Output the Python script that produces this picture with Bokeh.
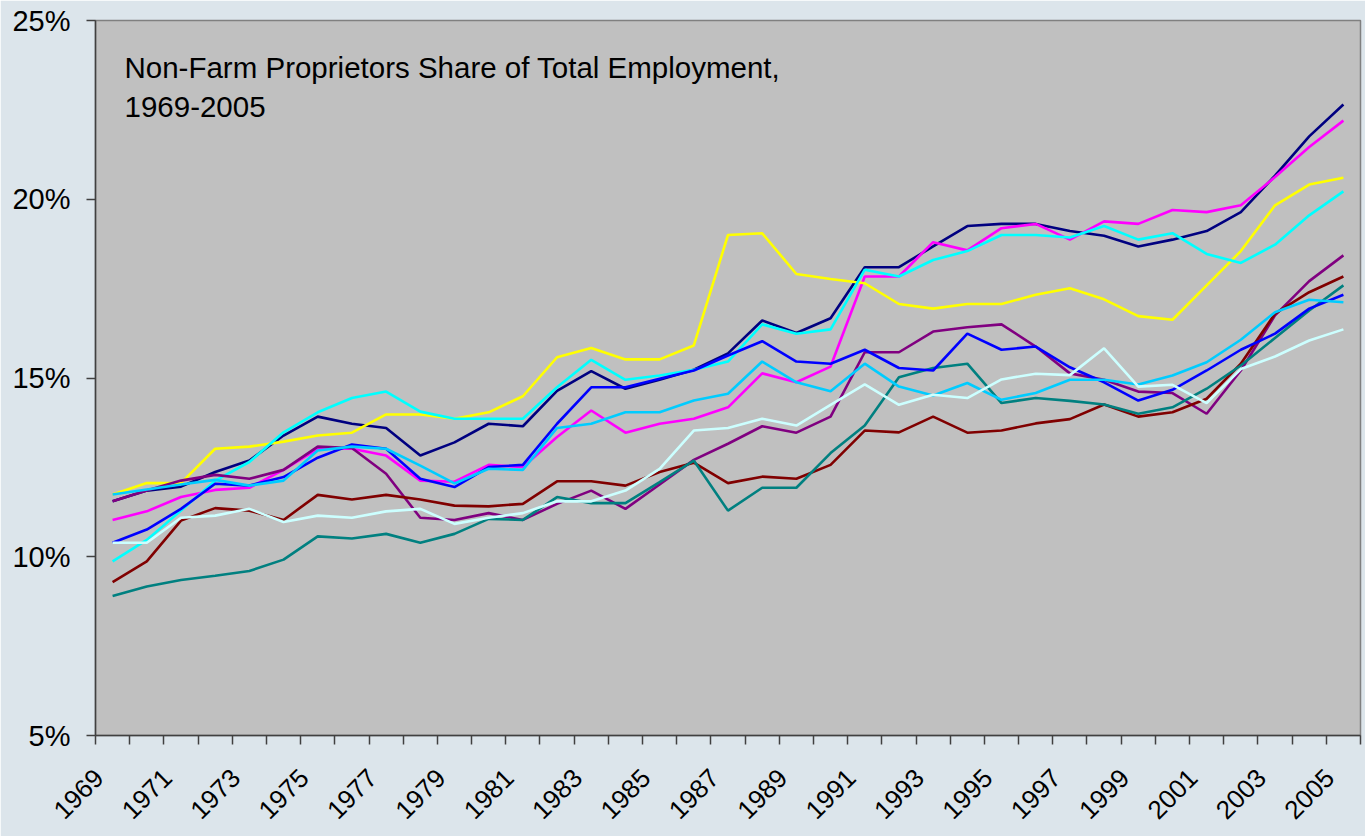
import math
from bokeh.plotting import figure
from bokeh.models import Range1d, FixedTicker, PrintfTickFormatter, Label, CustomJSTickFormatter
from bokeh.embed import file_html
from bokeh.resources import INLINE

years = list(range(1969, 2006))

s1_navy = [11.55, 11.85, 11.96, 12.37, 12.69, 13.39, 13.92, 13.72, 13.60, 12.83,
           13.20, 13.72, 13.65, 14.64, 15.19, 14.70, 14.95, 15.23, 15.69, 16.61,
           16.26, 16.67, 18.10, 18.10, 18.68, 19.25, 19.31, 19.31, 19.11, 18.98,
           18.68, 18.87, 19.11, 19.64, 20.66, 21.76, 22.65]
s2_magenta = [11.03, 11.27, 11.67, 11.87, 11.93, 12.43, 13.02, 13.02, 12.83, 12.13,
              12.10, 12.57, 12.51, 13.35, 14.09, 13.47, 13.72, 13.86, 14.18, 15.13,
              14.88, 15.32, 17.84, 17.84, 18.80, 18.57, 19.19, 19.31, 18.87, 19.38,
              19.31, 19.70, 19.64, 19.83, 20.62, 21.46, 22.20]
s3_yellow = [11.74, 12.06, 12.06, 13.02, 13.08, 13.22, 13.39, 13.47, 13.98, 13.98,
             13.86, 14.04, 14.49, 15.58, 15.84, 15.52, 15.52, 15.91, 19.00, 19.05,
             17.91, 17.77, 17.65, 17.07, 16.94, 17.07, 17.07, 17.33, 17.51, 17.20,
             16.73, 16.63, 17.59, 18.55, 19.83, 20.41, 20.60]
s4_cyan = [9.87, 10.47, 11.29, 12.13, 12.65, 13.48, 14.04, 14.44, 14.62, 14.06,
           13.86, 13.86, 13.86, 14.74, 15.51, 14.95, 15.07, 15.23, 15.46, 16.50,
           16.24, 16.36, 18.03, 17.84, 18.30, 18.55, 19.00, 19.00, 18.93, 19.25,
           18.87, 19.05, 18.47, 18.22, 18.73, 19.55, 20.22]
s5_purple = [11.55, 11.85, 12.13, 12.29, 12.18, 12.43, 13.08, 13.04, 12.32, 11.09,
             11.03, 11.22, 11.03, 11.48, 11.85, 11.34, 12.02, 12.71, 13.16, 13.65,
             13.47, 13.92, 15.72, 15.72, 16.30, 16.42, 16.50, 15.88, 15.13, 14.95,
             14.62, 14.58, 14.00, 15.21, 16.75, 17.71, 18.43]
s6_darkred = [9.29, 9.87, 11.01, 11.36, 11.29, 11.03, 11.73, 11.60, 11.73, 11.60,
              11.43, 11.41, 11.48, 12.11, 12.11, 11.99, 12.37, 12.63, 12.06, 12.24,
              12.18, 12.57, 13.53, 13.48, 13.92, 13.47, 13.53, 13.73, 13.85, 14.26,
              13.92, 14.04, 14.42, 15.40, 16.80, 17.40, 17.84]
s7_teal = [8.90, 9.17, 9.35, 9.47, 9.60, 9.92, 10.57, 10.51, 10.64, 10.39,
           10.64, 11.06, 11.03, 11.67, 11.50, 11.50, 12.09, 12.69, 11.29, 11.93,
           11.93, 12.90, 13.67, 15.02, 15.28, 15.40, 14.30, 14.44, 14.36, 14.26,
           14.00, 14.18, 14.70, 15.35, 16.12, 16.89, 17.59]
s8_blue = [10.39, 10.76, 11.34, 12.04, 11.99, 12.23, 12.77, 13.14, 13.02, 12.18,
           11.95, 12.51, 12.57, 13.72, 14.74, 14.74, 14.98, 15.21, 15.63, 16.03,
           15.46, 15.40, 15.79, 15.28, 15.21, 16.24, 15.79, 15.88, 15.30, 14.88,
           14.37, 14.67, 15.21, 15.79, 16.24, 16.94, 17.33]
s9_skyblue = [11.74, 11.88, 12.02, 12.15, 11.99, 12.13, 12.97, 13.08, 13.02, 12.55,
              12.05, 12.46, 12.43, 13.60, 13.72, 14.04, 14.04, 14.37, 14.56, 15.46,
              14.88, 14.63, 15.40, 14.76, 14.51, 14.86, 14.39, 14.58, 14.95, 14.95,
              14.82, 15.07, 15.44, 16.07, 16.84, 17.19, 17.12]
s10_lightcyan = [10.39, 10.39, 11.09, 11.15, 11.34, 10.97, 11.15, 11.09, 11.27, 11.34,
                 10.92, 11.09, 11.22, 11.55, 11.55, 11.85, 12.46, 13.53, 13.60, 13.86,
                 13.67, 14.25, 14.82, 14.25, 14.53, 14.44, 14.96, 15.12, 15.08, 15.83,
                 14.76, 14.81, 14.30, 15.25, 15.60, 16.05, 16.36]

series = [s1_navy, s2_magenta, s3_yellow, s4_cyan, s5_purple,
          s6_darkred, s7_teal, s8_blue, s9_skyblue, s10_lightcyan]
colors = ["#000080", "#FF00FF", "#FFFF00", "#00FFFF", "#800080",
          "#800000", "#008080", "#0000FF", "#00CCFF", "#CCFFFF"]

y_ticks = [5, 10, 15, 20, 25]
x_label_years = years[::2]
title_lines = ["Non-Farm Proprietors Share of Total Employment,", "1969-2005"]

FONT = "Liberation Sans"
LABEL_SHIFT = 0.4  # year labels sit slightly left of their category centre

p = figure(width=1365, height=836, output_backend="svg", toolbar_location=None,
           x_range=Range1d(years[0] - 0.5, years[-1] + 0.5),
           y_range=Range1d(y_ticks[0], y_ticks[-1]),
           min_border_left=95, min_border_right=5, min_border_top=20, min_border_bottom=101)

p.background_fill_color = "#C0C0C0"
p.border_fill_color = "#DCE5EB"
p.outline_line_color = "#808080"
p.outline_line_width = 1.5
p.xgrid.visible = False
p.ygrid.visible = False

for ys, c in zip(series, colors):
    p.line(years, ys, line_color=c, line_width=2.6)

# y axis
ya = p.yaxis[0]
ya.ticker = FixedTicker(ticks=y_ticks, minor_ticks=[])
ya.formatter = PrintfTickFormatter(format="%d%%")
ya.axis_line_color = "#404040"
ya.axis_line_width = 1.5
ya.major_tick_line_color = "#404040"
ya.major_tick_line_width = 1.5
ya.major_tick_out = 9
ya.major_tick_in = 0
ya.minor_tick_line_color = None
ya.major_label_standoff = 16
ya.major_label_text_font = FONT
ya.major_label_text_font_size = "29px"
ya.major_label_text_color = "#000000"

# x axis
xa = p.xaxis[0]
xa.ticker = FixedTicker(ticks=[y - LABEL_SHIFT for y in x_label_years],
                        minor_ticks=[y - 0.5 for y in years] + [years[-1] + 0.5])
xa.formatter = CustomJSTickFormatter(args=dict(shift=LABEL_SHIFT),
                                     code="return Math.round(tick + shift).toString();")
xa.axis_line_color = "#404040"
xa.axis_line_width = 1.5
xa.major_tick_out = 0
xa.major_tick_in = 0
xa.minor_tick_line_color = "#404040"
xa.minor_tick_line_width = 1.5
xa.minor_tick_out = 9
xa.minor_tick_in = 0
xa.major_label_orientation = math.pi / 4
xa.major_label_standoff = 29
xa.major_label_text_font = FONT
xa.major_label_text_font_size = "26px"
xa.major_label_text_color = "#000000"

# title inside the plot area
px_per_pct = 715.0 / 20.0
px_per_year = 1265.0 / 37.0
for i, t in enumerate(title_lines):
    p.add_layout(Label(x=years[0] - 0.5 + 29.0 / px_per_year,
                       y=y_ticks[-1] - (47.0 + 39.0 * i) / px_per_pct,
                       text=t, text_font=FONT, text_font_size="29.5px",
                       text_color="#000000", text_baseline="alphabetic"))

open("out.html", "w").write(file_html(p, INLINE))
